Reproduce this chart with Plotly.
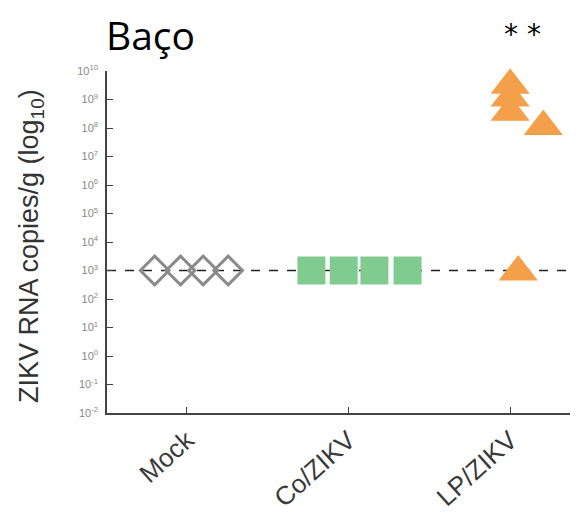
import plotly.graph_objects as go

# ---- data ----
groups = ["Mock", "Co/ZIKV", "LP/ZIKV"]
mock_vals = [1000, 1000, 1000, 1000]
co_vals = [1000, 1000, 1000, 1000]
lp_vals = [10**9.5, 10**9.05, 10**8.55, 10**8.05, 10**2.95]
detection_limit = 1000
ytick_exps = list(range(-2, 11))
ytick_labels = [f"10<sup>{e}</sup>" for e in ytick_exps]

# horizontal spread of points within each group (layout only)
mock_jitter = [-0.2, -0.04, 0.1, 0.255]
co_jitter = [-0.23, -0.03, 0.16, 0.365]
lp_jitter = [0.0, 0.0, 0.0, 0.205, 0.05]

# figure is offset by the page body's 8px margin, so size/margins compensate
W, H = 570, 507
ML, MT, MB = 99, 63, 102
PH = H - MT - MB
PW = W - ML


def px(fx):
    return (fx - ML) / PW


def py(fy):
    return 1 + (MT - fy) / PH


fig = go.Figure()
fig.add_trace(go.Scatter(
    x=[0 + j for j in mock_jitter], y=mock_vals, mode="markers",
    marker=dict(symbol="diamond-open", size=22, color="#8a8a8a", line=dict(width=3, color="#8a8a8a")),
    cliponaxis=False, showlegend=False))
fig.add_trace(go.Scatter(
    x=[1 + j for j in co_jitter], y=co_vals, mode="markers",
    marker=dict(symbol="square", size=28, color="#80cc90", line=dict(width=0)),
    cliponaxis=False, showlegend=False))
fig.add_trace(go.Scatter(
    x=[2 + j for j in lp_jitter], y=lp_vals, mode="markers",
    marker=dict(symbol="triangle-up", size=34, color="#f4a04a", line=dict(width=0)),
    cliponaxis=False, showlegend=False))

fig.add_shape(type="line", xref="paper", x0=0, x1=1, yref="y",
              y0=detection_limit, y1=detection_limit,
              line=dict(color="#222", width=1.5, dash="dash"), layer="below")

fig.update_layout(
    width=W, height=H,
    margin=dict(l=ML, r=0, t=MT, b=MB),
    plot_bgcolor="white", paper_bgcolor="white",
    font=dict(family="Liberation Sans, Arial, sans-serif", color="#444"),
    xaxis=dict(
        range=[-0.495, 2.42], tickvals=[0, 1, 2], ticktext=groups,
        tickangle=-42, tickfont=dict(size=26, color="#3a3a3a"),
        ticks="inside", ticklen=6, tickcolor="#444", tickwidth=1.2,
        showline=True, linecolor="#444", linewidth=1.5, showgrid=False, zeroline=False),
    yaxis=dict(
        type="log", range=[-2, 10],
        tickvals=[10**e for e in ytick_exps], ticktext=ytick_labels,
        tickfont=dict(size=11, color="#888888"), ticklabelstandoff=5,
        ticks="inside", ticklen=6, tickcolor="#444", tickwidth=1.2,
        showline=True, linecolor="#444", linewidth=1.5, showgrid=False, zeroline=False),
    annotations=[
        dict(text="ZIKV RNA copies/g (log<sub>10</sub>)", xref="paper", yref="paper",
             x=px(31 - 8), y=py(246 - 8), xanchor="center", yanchor="middle", textangle=-90,
             showarrow=False, font=dict(size=27, color="#333")),
        dict(text="Baço", xref="paper", yref="paper", x=px(104 - 8), y=py(34 - 8),
             xanchor="left", yanchor="middle",
             showarrow=False, font=dict(size=39, color="black", family="Open Sans, sans-serif")),
        dict(text="* *", xref="x", yref="paper", x=2.074, y=py(34 - 8), xanchor="center", yanchor="middle",
             showarrow=False, font=dict(size=28, color="black", family="DejaVu Sans, sans-serif")),
    ],
)

fig.write_html("out.html")
